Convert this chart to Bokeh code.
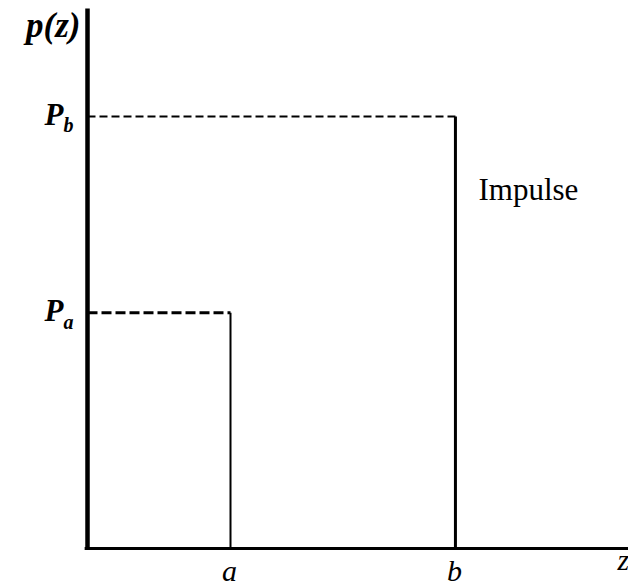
from bokeh.plotting import figure
from bokeh.models import Range1d
from bokeh.core.properties import value
from bokeh.embed import file_html
from bokeh.resources import INLINE

# Data: impulse (salt-and-pepper) noise PDF
z_levels = [1.0, 2.573]         # a, b
p_levels = [0.546, 1.0]         # Pa, Pb
z_tick_labels = ["a", "b"]
p_tick_labels = ["P", "P"]
p_subscripts = ["a", "b"]
impulse_label = "Impulse"
y_axis_top = 1.25

x_start, x_end = -0.6084, 3.7832
y_start, y_end = -0.0856, 1.2685

p = figure(width=628, height=585, output_backend="svg", toolbar_location=None,
           x_range=Range1d(x_start, x_end), y_range=Range1d(y_start, y_end),
           min_border=0, min_border_left=0, min_border_right=0,
           min_border_top=0, min_border_bottom=0)
p.axis.visible = False
p.grid.visible = False
p.outline_line_color = None
p.background_fill_color = "white"
p.border_fill_color = "white"

serif = value("Liberation Serif")

# axes
p.line(x=[0, 0], y=[0, y_axis_top], line_width=4.5, line_color="black")
p.line(x=[-0.02, x_end], y=[0, 0], line_width=3, line_color="black")

a, b = z_levels
Pa, Pb = p_levels

# dashed levels
p.line(x=[0, a], y=[Pa, Pa], line_width=3, line_dash="10 4", line_color="black")
p.line(x=[0, b], y=[Pb, Pb], line_width=2, line_dash="8 4", line_color="black")
# impulses
p.line(x=[a, a], y=[0, Pa], line_width=2, line_color="black")
p.line(x=[b, b], y=[0, Pb], line_width=3, line_color="black")

# axis labels
p.text(x=[0], y=[y_axis_top], text=["p(z)"], text_font=serif, text_font_style="bold italic",
       text_font_size="35px", text_align="right", text_baseline="middle",
       x_offset=-7, y_offset=17, text_color="black")
p.text(x=[x_end], y=[0], text=["z"], text_font=serif, text_font_style="italic",
       text_font_size="30px", text_align="left", text_baseline="middle",
       x_offset=-11, y_offset=11, text_color="black")

# x tick labels
p.text(x=z_levels, y=[0, 0], text=z_tick_labels, text_font=serif, text_font_style="italic",
       text_font_size="30px", text_align="center", text_baseline="middle",
       x_offset=-1, y_offset=22, text_color="black")

# y tick labels with subscripts
p.text(x=[0, 0], y=p_levels, text=p_tick_labels, text_font=serif, text_font_style="bold italic",
       text_font_size="31px", text_align="right", text_baseline="middle",
       x_offset=-24, y_offset=-2, text_color="black")
p.text(x=[0, 0], y=p_levels, text=p_subscripts, text_font=serif, text_font_style="bold italic",
       text_font_size="20px", text_align="right", text_baseline="middle",
       x_offset=-14, y_offset=9, text_color="black")

# Impulse annotation
p.text(x=[b], y=[Pb], text=[impulse_label], text_font=serif,
       text_font_size="31px", text_align="left", text_baseline="middle",
       x_offset=23, y_offset=73, text_color="black")

open("out.html", "w").write(file_html(p, INLINE))
